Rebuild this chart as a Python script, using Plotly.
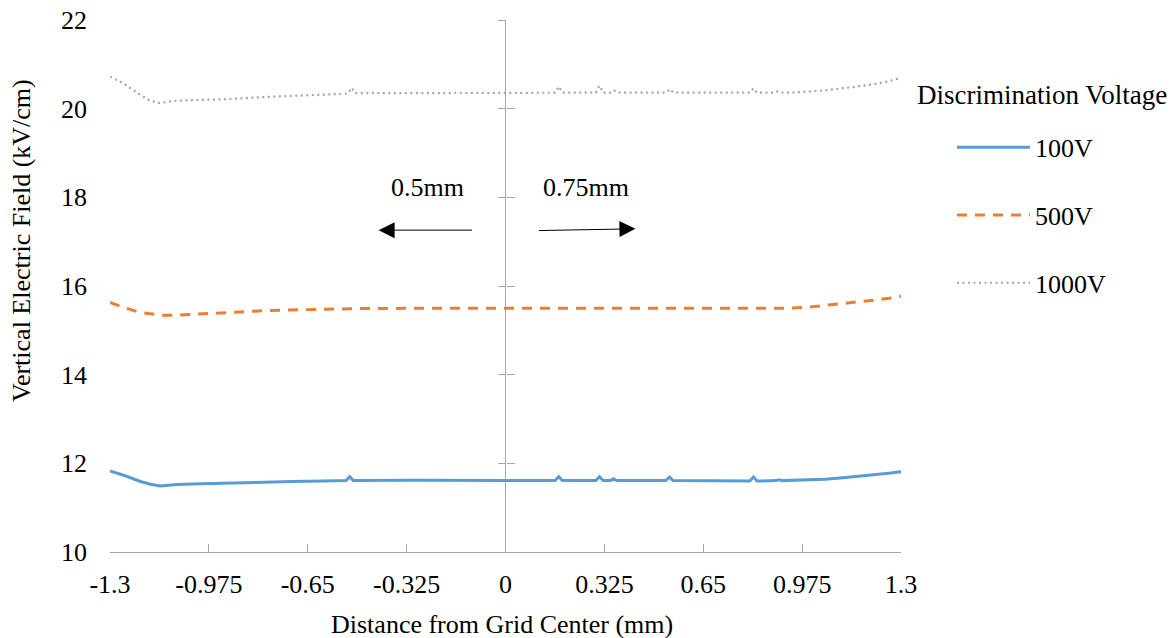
import plotly.graph_objects as go

# Vertical electric field across the grid for three discrimination voltages
x_100 = [-1.3, -1.25, -1.2, -1.167, -1.134, -1.08, -1.0, -0.9, -0.8, -0.7, -0.6,
         -0.524, -0.512, -0.5, -0.3, 0.0,
         0.163, 0.175, 0.187, 0.297, 0.309, 0.321, 0.345, 0.355, 0.365,
         0.527, 0.539, 0.551, 0.803, 0.815, 0.827, 0.89, 0.9, 0.91,
         0.975, 1.05, 1.1, 1.157, 1.21, 1.266, 1.3]
e_100 = [11.83, 11.72, 11.59, 11.53, 11.49, 11.52, 11.54, 11.56, 11.58, 11.59, 11.60,
         11.61, 11.70, 11.61, 11.62, 11.62,
         11.61, 11.70, 11.61, 11.61, 11.70, 11.61, 11.61, 11.65, 11.61,
         11.61, 11.69, 11.61, 11.60, 11.69, 11.60, 11.61, 11.63, 11.61,
         11.62, 11.64, 11.67, 11.70, 11.74, 11.78, 11.81]

x_500 = [-1.3, -1.256, -1.2, -1.128, -1.09, -1.0, -0.927, -0.8, -0.707, -0.6, -0.49,
         -0.2, 0.0, 0.5, 0.937, 0.993, 1.046, 1.1, 1.157, 1.21, 1.266, 1.3]
e_500 = [15.63, 15.52, 15.40, 15.34, 15.34, 15.37, 15.41, 15.44, 15.46, 15.48, 15.49,
         15.50, 15.50, 15.50, 15.50, 15.52, 15.56, 15.60, 15.63, 15.68, 15.73, 15.77]

x_1000 = [-1.3, -1.256, -1.2, -1.174, -1.14, -1.08, -1.0, -0.927, -0.8, -0.707, -0.6,
          -0.518, -0.506, -0.494, -0.3, 0.0,
          0.163, 0.175, 0.187, 0.297, 0.309, 0.321, 0.348, 0.358, 0.368,
          0.528, 0.54, 0.552, 0.803, 0.815, 0.827, 0.885, 0.895, 0.905,
          0.937, 1.046, 1.1, 1.157, 1.21, 1.266, 1.3]
e_1000 = [20.72, 20.57, 20.31, 20.20, 20.13, 20.18, 20.20, 20.21, 20.26, 20.29, 20.32,
          20.34, 20.47, 20.35, 20.35, 20.35,
          20.36, 20.50, 20.36, 20.36, 20.52, 20.36, 20.36, 20.41, 20.36,
          20.36, 20.44, 20.36, 20.36, 20.46, 20.36, 20.36, 20.39, 20.36,
          20.36, 20.41, 20.45, 20.50, 20.55, 20.63, 20.70]

x_ticks = [-1.3, -0.975, -0.65, -0.325, 0, 0.325, 0.65, 0.975, 1.3]
x_tick_text = ["-1.3", "-0.975", "-0.65", "-0.325", "0", "0.325", "0.65", "0.975", "1.3"]
y_ticks = [10, 12, 14, 16, 18, 20, 22]

FONT = "Liberation Serif"
AXIS_GREY = "#A6A6A6"

fig = go.Figure()
series = [
    ("100V", x_100, e_100, dict(color="#5B9BD5", width=3, dash="solid")),
    ("500V", x_500, e_500, dict(color="#ED7D31", width=3, dash="10px,8px")),
    ("1000V", x_1000, e_1000, dict(color="#A5A5A5", width=2.2, dash="2px,3.5px")),
]
for name, xs, ys, line in series:
    fig.add_trace(go.Scatter(x=xs, y=ys, mode="lines", name=name, line=line,
                             legendgroup=name))

# empty traces so the centre tick axes get drawn
for ax_name in ("y2", "y3"):
    fig.add_trace(go.Scatter(x=[], y=[], yaxis=ax_name, showlegend=False,
                             hoverinfo="skip"))

# Region width markers either side of the centre line
fig.add_annotation(x=-0.417, y=17.26, ax=-0.105, ay=17.26, xref="x", yref="y",
                   axref="x", ayref="y", text="", showarrow=True, arrowhead=2,
                   arrowsize=3.2, arrowwidth=1, arrowcolor="black")
fig.add_annotation(x=0.427, y=17.29, ax=0.105, ay=17.25, xref="x", yref="y",
                   axref="x", ayref="y", text="", showarrow=True, arrowhead=2,
                   arrowsize=3.2, arrowwidth=1, arrowcolor="black")
fig.add_annotation(x=-0.257, y=18.23, xref="x", yref="y", text="0.5mm",
                   showarrow=False, font=dict(family=FONT, size=26, color="black"))
fig.add_annotation(x=0.263, y=18.23, xref="x", yref="y", text="0.75mm",
                   showarrow=False, font=dict(family=FONT, size=26, color="black"))

# Legend heading and axis titles
fig.add_annotation(x=1.0177, y=0.859, xref="paper", yref="paper",
                   text="Discrimination Voltage", showarrow=False,
                   xanchor="left", yanchor="middle",
                   font=dict(family=FONT, size=27, color="black"))
fig.add_annotation(x=-0.111, y=0.585, xref="paper", yref="paper",
                   text="Vertical Electric Field (kV/cm)", textangle=-90,
                   showarrow=False, xanchor="center", yanchor="middle",
                   font=dict(family=FONT, size=26, color="black"))
fig.add_annotation(x=0.495, y=-0.137, xref="paper", yref="paper",
                   text="Distance from Grid Center (mm)",
                   showarrow=False, xanchor="center", yanchor="middle",
                   font=dict(family=FONT, size=26, color="black"))

fig.update_layout(
    width=1174, height=638,
    margin=dict(l=110, r=273, t=20, b=86, autoexpand=False),
    paper_bgcolor="white", plot_bgcolor="white",
    font=dict(family=FONT, size=26, color="black"),
    showlegend=True,
    legend=dict(x=1.0645, y=0.805, xanchor="left", yanchor="top",
                tracegroupgap=31, itemwidth=73,
                font=dict(family=FONT, size=26, color="black"),
                bgcolor="rgba(0,0,0,0)"),
    xaxis=dict(range=[-1.3, 1.3], tickvals=x_ticks, ticktext=x_tick_text,
               showline=True, linecolor=AXIS_GREY, linewidth=1.3,
               ticks="inside", ticklen=8, tickcolor=AXIS_GREY, tickwidth=1.3,
               showgrid=False, zeroline=True, zerolinecolor=AXIS_GREY,
               zerolinewidth=1.3, ticklabelstandoff=9, automargin=False),
    yaxis=dict(range=[10, 22], tickvals=y_ticks, showline=False, ticks="",
               showgrid=False, zeroline=False, ticklabelstandoff=22,
               automargin=False),
    # crossing tick marks on the centre line
    yaxis2=dict(range=[10, 22], overlaying="y", anchor="free", position=0.5,
                tickvals=y_ticks, showline=False,
                ticks="outside", ticklen=8, tickcolor=AXIS_GREY, tickwidth=1.3,
                showticklabels=False, showgrid=False, zeroline=False,
                automargin=False),
    yaxis3=dict(range=[10, 22], overlaying="y", anchor="free", position=0.5,
                tickvals=y_ticks, showline=False,
                ticks="inside", ticklen=8, tickcolor=AXIS_GREY, tickwidth=1.3,
                showticklabels=False, showgrid=False, zeroline=False,
                automargin=False),
)

fig.write_html("out.html")
